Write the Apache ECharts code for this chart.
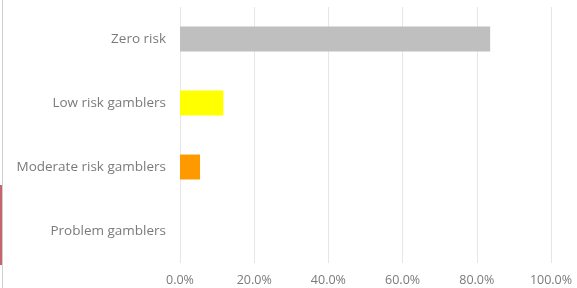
<!DOCTYPE html>
<html>
<head>
<meta charset="utf-8">
<script src="https://cdn.jsdelivr.net/npm/echarts@6/dist/echarts.min.js"></script>
<style>
html, body { margin: 0; padding: 0; background: #fff; }
#main { width: 577px; height: 288px; }
</style>
</head>
<body>
<div id="main"></div>
<script>
// categories, top to bottom
var categories = ['Zero risk', 'Low risk gamblers', 'Moderate risk gamblers', 'Problem gamblers'];
// share of respondents (%)
var shares = [83.6, 11.7, 5.4, 0];
var barColors = ['#bfbfbf', '#ffff00', '#ff9900', '#5b9bd5'];

var myChart = echarts.init(document.getElementById('main'));

var option = {
    animation: false,
    backgroundColor: '#fff',
    grid: {
        left: 180,
        right: 26,
        top: 7,
        bottom: 25
    },
    xAxis: {
        type: 'value',
        min: 0,
        max: 100,
        interval: 20,
        axisLine: { show: false },
        axisTick: { show: false },
        splitLine: { lineStyle: { color: '#e6e6e6', width: 1 } },
        axisLabel: {
            color: '#7a7a7a',
            fontFamily: 'Open Sans',
            fontSize: 12.5,
            margin: 11,
            formatter: function (v) { return v.toFixed(1) + '%'; }
        }
    },
    yAxis: {
        type: 'category',
        data: categories,
        inverse: true,
        axisLine: { show: false },
        axisTick: { show: false },
        axisLabel: {
            color: '#7a7a7a',
            fontFamily: 'Open Sans',
            fontSize: 13.5,
            margin: 14
        }
    },
    series: [{
        type: 'bar',
        barWidth: '39%',
        data: shares.map(function (v, i) {
            return { value: v, itemStyle: { color: barColors[i] } };
        })
    }],
    // frame edges visible at the left of the picture
    graphic: [
        { type: 'rect', left: 2, top: 0, shape: { width: 1, height: 288 }, style: { fill: '#d0d0d0' } },
        { type: 'rect', left: 0, top: 185, shape: { width: 2, height: 80 }, style: { fill: '#c8646e' } }
    ]
};

myChart.setOption(option);
</script>
</body>
</html>
